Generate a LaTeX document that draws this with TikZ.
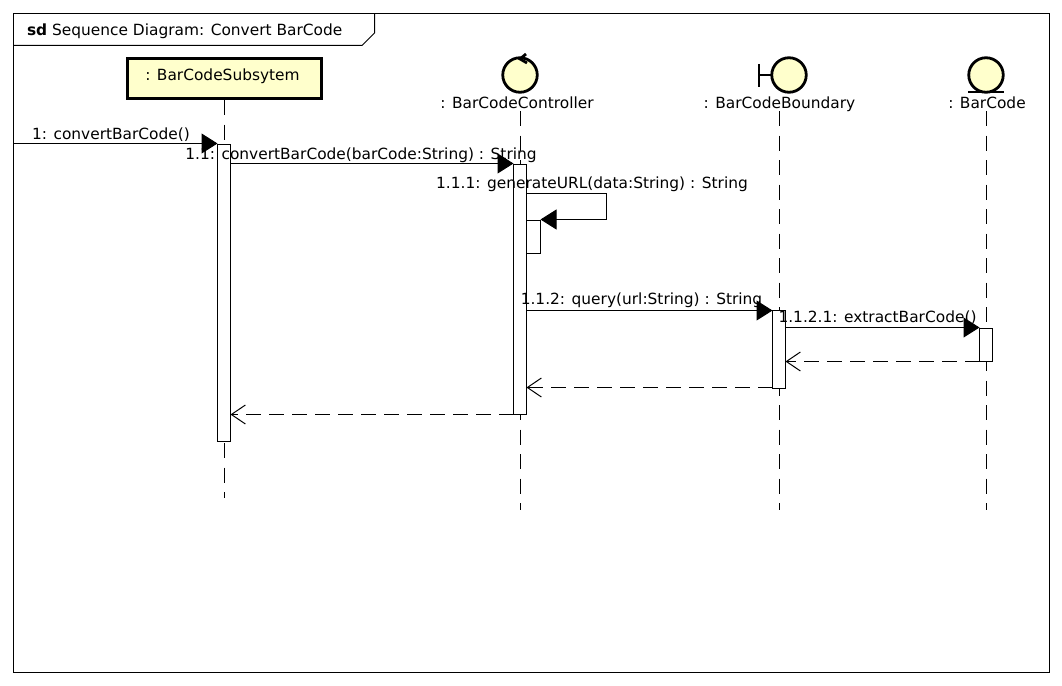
\documentclass[tikz,border=0pt]{standalone}
\usepackage{fontspec}
\setmainfont{DejaVu Sans}
\usetikzlibrary{arrows.meta}
\def\px{0.75pt}
\definecolor{umlfill}{HTML}{FFFFCC}
\tikzset{
  x=0.75pt,y=-0.75pt,
  every node/.style={inner sep=0pt,outer sep=0pt,font=\fontsize{11.55pt}{13pt}\selectfont},
  txt/.style={anchor=base,text=black},
  lifeline/.style={line width=1*\px,dash pattern=on 15*\px off 9.5*\px},
  act/.style={draw,fill=white,line width=1*\px,anchor=north west,minimum width=13*\px},
  head/.style={draw,line width=2.8*\px,fill=umlfill,circle,minimum size=34.5*\px},
  ico/.style={line width=2.8*\px},
  msg/.style={line width=1*\px,-{Triangle[length=16*\px,width=20*\px]}},
  ret/.style={line width=1*\px,dash pattern=on 15*\px off 8*\px,-{Straight Barb[length=14*\px,width=19*\px,line width=1*\px]}},
}
\begin{document}
\begin{tikzpicture}
\useasboundingbox (0,0) rectangle (1062,685);
% frame
\coordinate (f1) at (13.5,13.5);
\coordinate (f2) at (1049.5,672.5);
\draw[line width=1*\px] (f1) rectangle (f2);
\draw[line width=1*\px] (13.5,45.5) -- (362,45.5) -- (374.5,33) -- (374.5,13.5);
\node[txt,anchor=base west] (title) at (27,36) {\textbf{sd} Sequence Diagram: Convert BarCode};
% heads
\node[draw,fill=umlfill,line width=3*\px,minimum width=194*\px,minimum height=40*\px] (a) at (224,78.5) {};
\node[txt] (aLabel) at (222.5,80) {: BarCodeSubsytem};
\node[head] (b) at (520,75) {};
\draw[ico] (526,54) -- (520,59) -- (527,63);
\node[txt] (bLabel) at (517,108) {: BarCodeController};
\node[head] (c) at (789,75) {};
\draw[ico] (c.west) -- (759,75);
\draw[ico] (759,64) -- (759,87);
\node[txt] (cLabel) at (779.5,108) {: BarCodeBoundary};
\node[head] (d) at (986,75) {};
\draw[ico] (968,92) -- (1004,92);
\node[txt] (dLabel) at (987,108) {: BarCode};
% lifeline ends
\coordinate (aTop) at (224.5,100);
\coordinate (aEnd) at (224.5,498);
\coordinate (bTop) at (520.5,111);
\coordinate (bEnd) at (520.5,510);
\coordinate (cTop) at (779.5,111);
\coordinate (cEnd) at (779.5,510);
\coordinate (dTop) at (986.5,111);
\coordinate (dEnd) at (986.5,510);
\draw[lifeline] (aTop) -- (aEnd);
\draw[lifeline] (bTop) -- (bEnd);
\draw[lifeline] (cTop) -- (cEnd);
\draw[lifeline] (dTop) -- (dEnd);
% activations
\node[act,minimum height=297*\px] (actA) at (217.5,144.5) {};
\node[act,minimum height=250*\px] (actB) at (513.5,164.5) {};
\node[act,minimum width=14*\px,minimum height=33*\px] (actB2) at (526.5,220.5) {};
\node[act,minimum height=78*\px] (actC) at (772.5,310.5) {};
\node[act,minimum height=33*\px] (actD) at (979.5,328.5) {};
% messages
\coordinate (in) at (13.5,143.5);
\coordinate (m2) at (0,163.5);
\coordinate (m3) at (0,193.5);
\coordinate (m3b) at (606.5,193.5);
\coordinate (m3c) at (606.5,219.5);
\coordinate (m4) at (0,310.5);
\coordinate (m5) at (0,327.5);
\coordinate (r1) at (0,361.5);
\coordinate (r2) at (0,387.5);
\coordinate (r3) at (0,414.5);
\draw[msg] (in) -- (actA.west |- in);
\draw[msg] (actA.east |- m2) -- (actB.west |- m2);
\draw[msg] (actB.east |- m3) -- (m3b) -- (m3c) -- (actB2.east |- m3c);
\draw[msg] (actB.east |- m4) -- (actC.west |- m4);
\draw[msg] (actC.east |- m5) -- (actD.west |- m5);
\draw[ret] (actD.west |- r1) -- (actC.east |- r1);
\draw[ret] (actC.west |- r2) -- (actB.east |- r2);
\draw[ret] (actB.west |- r3) -- (actA.east |- r3);
% labels
\node[txt] (l1) at (111,139) {1: convertBarCode()};
\node[txt] (l2) at (361,159) {1.1: convertBarCode(barCode:String) : String};
\node[txt] (l3) at (592,188) {1.1.1: generateURL(data:String) : String};
\node[txt] (l4) at (641.5,304) {1.1.2: query(url:String) : String};
\node[txt] (l5) at (877.5,322) {1.1.2.1: extractBarCode()};
\end{tikzpicture}
\end{document}
